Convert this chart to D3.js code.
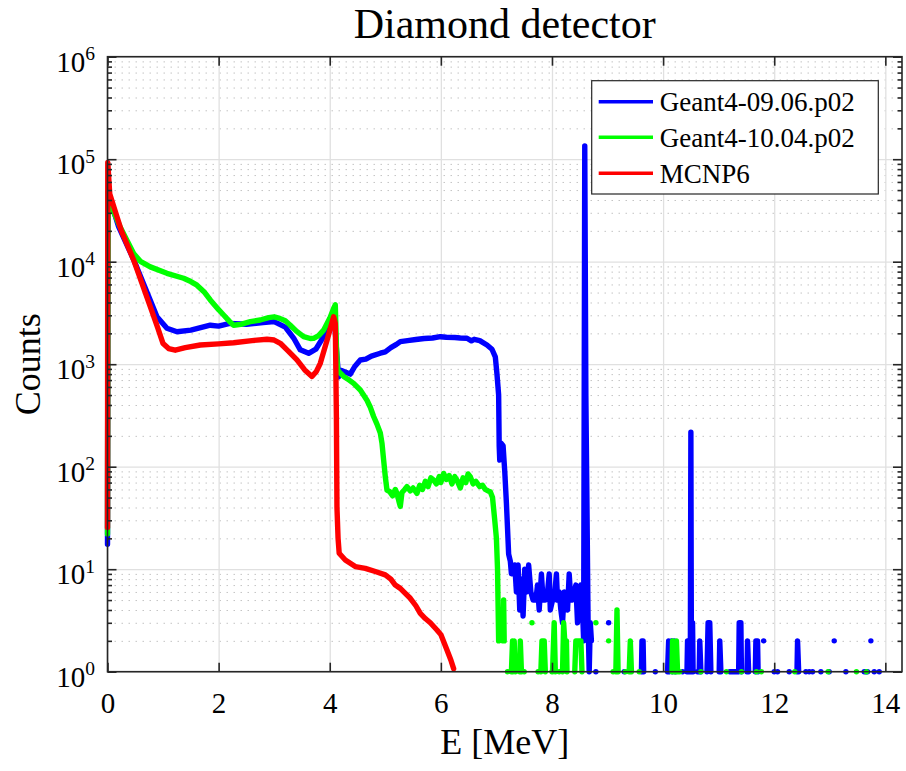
<!DOCTYPE html>
<html>
<head>
<meta charset="utf-8">
<script src="https://cdn.jsdelivr.net/npm/d3@7"></script>
<style>
  body { margin: 0; background: #fff; }
  text { font-family: "Liberation Serif", "Times New Roman", serif; fill: #000; }
</style>
</head>
<body>
<script>
var width = 906, height = 771,
    plotLeft = 107.5, plotRight = 902, plotTop = 56.7, plotBottom = 671.7;

var xTicks = [0, 2, 4, 6, 8, 10, 12, 14];
var yExponents = [0, 1, 2, 3, 4, 5, 6];
var seriesNames = ["Geant4-09.06.p02", "Geant4-10.04.p02", "MCNP6"];
var seriesColors = ["#0000ff", "#00ff00", "#ff0000"];

// [E (MeV), counts] ; 0 counts = empty bin (line breaks on log axis)
var geant4v906 = [
  [0, 17.5], [0.01, 48000], [0.05, 40000], [0.2, 22000], [0.47, 10500], [0.77, 4200], [0.89, 2900],
  [1.07, 2240], [1.25, 2075], [1.5, 2150], [1.85, 2400], [2.0, 2350], [2.2, 2500], [2.5, 2450],
  [2.8, 2550], [3.0, 2600], [3.2, 2300], [3.35, 1800], [3.47, 1380], [3.62, 1277], [3.75, 1400],
  [3.9, 1900], [4.05, 2900], [4.08, 3000], [4.13, 1200], [4.16, 750], [4.2, 870], [4.3, 830],
  [4.37, 800], [4.45, 950], [4.55, 1100], [4.65, 1120], [4.75, 1200], [4.91, 1280], [5.0, 1320],
  [5.1, 1450], [5.2, 1560], [5.27, 1660], [5.4, 1700], [5.55, 1740], [5.7, 1780], [5.85, 1800],
  [5.99, 1855], [6.1, 1830], [6.25, 1820], [6.35, 1800], [6.47, 1790], [6.55, 1690], [6.6, 1750],
  [6.7, 1700], [6.83, 1540], [6.92, 1400], [6.98, 1180], [7.01, 800], [7.04, 500], [7.05, 160],
  [7.06, 116], [7.08, 170], [7.12, 160], [7.15, 90], [7.18, 44], [7.2, 25], [7.22, 14], [7.25, 12],
  [7.27, 9], [7.30, 9], [7.33, 11], [7.36, 6], [7.39, 11], [7.42, 4], [7.45, 8], [7.48, 3.5],
  [7.51, 10], [7.54, 6], [7.58, 11], [7.62, 6], [7.66, 5], [7.71, 5], [7.74, 7], [7.77, 4],
  [7.81, 9], [7.84, 5], [7.88, 5], [7.92, 6], [7.95, 9], [7.97, 4], [8.01, 5], [8.04, 5], [8.08, 9],
  [8.10, 5], [8.13, 6], [8.16, 4], [8.19, 3], [8.22, 6], [8.25, 5], [8.28, 4], [8.31, 9], [8.34, 5],
  [8.37, 5], [8.40, 6], [8.43, 7], [8.46, 3], [8.49, 5], [8.52, 7], [8.55, 4], [8.57, 2],
  [8.59, 135000], [8.61, 490], [8.63, 40], [8.65, 3], [8.67, 1], [8.69, 3], [8.71, 2], [8.72, 0],
  [8.79, 1], [8.80, 0], [9.02, 3], [9.03, 0], [9.3, 1], [9.31, 0], [9.61, 1], [9.62, 2], [9.64, 2],
  [9.65, 1], [9.66, 0], [9.86, 1], [9.87, 0], [10.08, 1], [10.10, 2], [10.12, 1], [10.15, 2],
  [10.17, 1], [10.20, 2], [10.22, 1], [10.24, 0], [10.35, 1], [10.36, 0], [10.43, 1], [10.44, 2],
  [10.46, 1], [10.49, 1], [10.50, 217], [10.51, 1], [10.53, 3], [10.54, 1], [10.55, 0], [10.62, 1],
  [10.65, 1], [10.66, 2], [10.68, 1], [10.69, 0], [10.79, 1], [10.81, 3], [10.84, 3], [10.86, 1],
  [10.87, 0], [11.01, 1], [11.02, 2], [11.04, 1], [11.05, 0], [11.2, 1], [11.3, 1], [11.36, 1],
  [11.37, 3], [11.40, 3], [11.41, 1], [11.42, 0], [11.51, 1], [11.52, 2], [11.54, 1], [11.55, 0],
  [11.66, 1], [11.67, 2], [11.70, 2], [11.71, 1], [11.72, 0], [11.81, 2], [11.82, 0], [12.0, 1],
  [12.01, 0], [12.06, 1], [12.07, 0], [12.27, 1], [12.28, 0], [12.41, 1], [12.42, 2], [12.44, 1],
  [12.45, 0], [12.57, 1], [12.58, 0], [12.63, 1], [12.64, 0], [12.69, 1], [12.70, 0], [12.84, 1],
  [12.85, 0], [12.99, 1], [13.0, 0], [13.08, 2], [13.09, 0], [13.29, 1], [13.30, 0], [13.62, 1],
  [13.68, 1], [13.69, 0], [13.74, 2], [13.75, 0], [13.8, 1], [13.81, 0], [13.89, 1], [13.9, 0]
];

var geant4v1004 = [
  [0, 22], [0.01, 48000], [0.05, 40000], [0.075, 34000], [0.225, 22000], [0.47, 12000], [0.6, 10000],
  [0.77, 8900], [1.07, 7700], [1.37, 6900], [1.5, 6400], [1.61, 5900], [1.75, 5000], [1.85, 4240],
  [2.0, 3400], [2.09, 3020], [2.2, 2600], [2.27, 2400], [2.4, 2450], [2.57, 2600], [2.75, 2700],
  [2.9, 2850], [3.0, 2900], [3.1, 2800], [3.2, 2650], [3.29, 2400], [3.4, 2100], [3.53, 1860],
  [3.65, 1780], [3.71, 1790], [3.8, 1900], [3.89, 2150], [4.0, 2800], [4.07, 3500], [4.1, 3800],
  [4.12, 1500], [4.14, 900], [4.16, 850], [4.25, 760], [4.35, 700], [4.43, 650], [4.55, 560],
  [4.67, 445], [4.73, 380], [4.79, 309], [4.85, 260], [4.91, 213], [4.94, 170], [4.97, 116],
  [5.0, 80], [5.03, 59], [5.08, 57], [5.13, 52], [5.18, 60], [5.21, 55], [5.25, 45], [5.27, 41],
  [5.3, 56], [5.35, 60], [5.39, 64], [5.45, 58], [5.5, 62], [5.57, 55], [5.62, 66], [5.67, 60],
  [5.72, 72], [5.77, 64], [5.82, 78], [5.87, 74], [5.92, 68], [5.97, 80], [6.0, 70], [6.05, 86],
  [6.1, 75], [6.15, 82], [6.2, 68], [6.25, 80], [6.29, 74], [6.35, 62], [6.4, 78], [6.45, 70],
  [6.49, 85], [6.53, 80], [6.58, 68], [6.63, 72], [6.7, 64], [6.75, 66], [6.8, 60], [6.85, 58],
  [6.89, 57], [6.93, 50], [6.97, 30], [7.0, 20], [7.02, 10], [7.04, 2], [7.05, 0],
  [7.12, 2], [7.13, 5], [7.14, 2], [7.15, 0], [7.2, 1], [7.21, 0], [7.27, 1], [7.29, 2], [7.30, 1],
  [7.32, 2], [7.34, 1], [7.35, 0], [7.42, 1], [7.43, 2], [7.45, 1], [7.46, 0], [7.5, 1], [7.51, 0],
  [7.64, 3], [7.65, 0], [7.75, 1], [7.76, 0], [7.80, 1], [7.82, 2], [7.86, 2], [7.88, 1], [7.89, 0],
  [8.0, 1], [8.01, 1], [8.04, 3], [8.06, 1], [8.07, 0], [8.13, 1], [8.14, 0], [8.19, 1], [8.21, 3],
  [8.23, 2], [8.26, 2], [8.27, 1], [8.28, 0], [8.41, 1], [8.43, 2], [8.46, 2], [8.49, 2], [8.52, 2],
  [8.54, 1], [8.55, 0], [8.79, 3], [8.80, 0], [9.02, 2], [9.03, 0], [9.1, 1], [9.11, 0], [9.15, 1],
  [9.17, 4], [9.19, 1], [9.20, 0], [9.32, 1], [9.33, 0], [9.39, 1], [9.41, 2], [9.43, 1], [9.44, 0],
  [9.57, 1], [9.58, 0], [10.16, 1], [10.17, 2], [10.19, 1], [10.2, 0], [10.23, 1], [10.24, 2],
  [10.26, 1], [10.30, 1], [10.31, 0], [10.68, 1], [10.69, 0], [11.14, 1], [11.15, 0], [11.41, 1],
  [11.42, 0], [11.68, 1], [11.69, 0], [11.77, 1], [11.78, 0], [12.37, 1], [12.38, 0], [12.97, 1],
  [12.98, 0], [13.48, 1], [13.49, 0], [13.66, 1], [13.67, 0]
];

var mcnp6 = [
  [0, 25.5], [0.005, 93000], [0.04, 46000], [0.25, 20000], [0.47, 10400], [0.77, 3650], [0.9, 2300],
  [1.0, 1590], [1.1, 1420], [1.22, 1370], [1.4, 1450], [1.67, 1540], [2.0, 1580], [2.27, 1620],
  [2.6, 1700], [2.87, 1750], [3.0, 1720], [3.11, 1600], [3.25, 1350], [3.41, 1100], [3.55, 880],
  [3.68, 760], [3.76, 850], [3.83, 1020], [3.95, 1700], [4.07, 2900], [4.1, 2500], [4.12, 300],
  [4.13, 40], [4.15, 20], [4.17, 14.3], [4.28, 12.3], [4.46, 10.6], [4.64, 10.2], [4.82, 9.5],
  [5.0, 8.8], [5.1, 8], [5.18, 7.0], [5.27, 6.5], [5.36, 5.8], [5.45, 5.2], [5.55, 4.4], [5.63, 3.7],
  [5.72, 3.3], [5.81, 3.0], [5.93, 2.55], [6.0, 2.3], [6.11, 1.63], [6.18, 1.3], [6.23, 1.07]
];

var allSeries = [geant4v906, geant4v1004, mcnp6];

var svg = d3.select("body").append("svg")
    .attr("width", width)
    .attr("height", height)
    .style("background", "#fff");

var x = d3.scaleLinear().domain([0, 14.3]).range([plotLeft, plotRight]);
var y = d3.scaleLog().domain([1, 1e6]).range([plotBottom, plotTop]);

var majorY = yExponents.map(function(e) { return Math.pow(10, e); });
var minorY = [];
yExponents.slice(0, -1).forEach(function(e) {
  for (var k = 2; k <= 9; k++) minorY.push(k * Math.pow(10, e));
});

var plotW = plotRight - plotLeft, plotH = plotBottom - plotTop;

// grid
svg.append("g")
    .attr("transform", "translate(" + plotLeft + ",0)")
    .call(d3.axisLeft(y).tickValues(minorY).tickSize(-plotW).tickFormat(""))
    .call(function(g) {
      g.select(".domain").remove();
      g.selectAll("line").attr("stroke", "#c4c4c4").attr("stroke-dasharray", "1.5,5.5");
    });
svg.append("g")
    .attr("transform", "translate(" + plotLeft + ",0)")
    .call(d3.axisLeft(y).tickValues(majorY).tickSize(-plotW).tickFormat(""))
    .call(function(g) {
      g.select(".domain").remove();
      g.selectAll("line").attr("stroke", "#e0e0e0").attr("stroke-width", 1.3);
    });
svg.append("g")
    .attr("transform", "translate(0," + plotBottom + ")")
    .call(d3.axisBottom(x).tickValues(xTicks).tickSize(-plotH).tickFormat(""))
    .call(function(g) {
      g.select(".domain").remove();
      g.selectAll("line").attr("stroke", "#e0e0e0").attr("stroke-width", 1.3);
    });

// data lines
var line = d3.line()
    .defined(function(d) { return d[1] > 0; })
    .x(function(d) { return x(d[0]); })
    .y(function(d) { return y(d[1]); });

svg.append("g").selectAll("path")
    .data(allSeries)
    .enter()
    .append("path")
    .attr("d", line)
    .attr("fill", "none")
    .attr("stroke", function(d, i) { return seriesColors[i]; })
    .attr("stroke-width", 5.4)
    .attr("stroke-linejoin", "round")
    .attr("stroke-linecap", "round");

// axes ticks (inward)
var axisColor = "#262626";
function styleAxis(g) {
  g.select(".domain").remove();
  g.selectAll("line").attr("stroke", axisColor).attr("stroke-width", 1.6);
}
svg.append("g").attr("transform", "translate(0," + plotBottom + ")")
    .call(d3.axisBottom(x).tickValues(xTicks).tickSize(-9).tickPadding(18).tickFormat(d3.format("d")))
    .call(styleAxis)
    .call(function(g) {
      g.selectAll("text").attr("font-size", 29).attr("fill", "#262626")
        .attr("font-family", "Liberation Serif").attr("dy", "0.82em");
    });
svg.append("g").attr("transform", "translate(0," + plotTop + ")")
    .call(d3.axisTop(x).tickValues(xTicks).tickSize(-9).tickFormat(""))
    .call(styleAxis);
[[plotLeft, d3.axisLeft], [plotRight, d3.axisRight]].forEach(function(a) {
  svg.append("g").attr("transform", "translate(" + a[0] + ",0)")
      .call(a[1](y).tickValues(majorY).tickSize(-9).tickFormat(""))
      .call(styleAxis);
  svg.append("g").attr("transform", "translate(" + a[0] + ",0)")
      .call(a[1](y).tickValues(minorY).tickSize(-4.5).tickFormat(""))
      .call(styleAxis);
});

// y tick labels 10^n
var ylab = svg.append("g").selectAll("text")
    .data(yExponents)
    .enter()
    .append("text")
    .attr("x", 95)
    .attr("y", function(e) { return y(Math.pow(10, e)) + 15; })
    .attr("text-anchor", "end")
    .attr("fill", "#262626");
ylab.append("tspan").attr("font-size", 29).text("10");
ylab.append("tspan").attr("font-size", 19.5).attr("dy", -11.5).text(function(e) { return e; });

// frame
svg.append("rect")
    .attr("x", plotLeft).attr("y", plotTop)
    .attr("width", plotW).attr("height", plotH)
    .attr("fill", "none").attr("stroke", axisColor).attr("stroke-width", 1.6);

// title and labels
svg.append("text")
    .attr("x", (plotLeft + plotRight) / 2).attr("y", 38)
    .attr("text-anchor", "middle").attr("font-size", 42)
    .text("Diamond detector");
svg.append("text")
    .attr("x", (plotLeft + plotRight) / 2).attr("y", 754)
    .attr("text-anchor", "middle").attr("font-size", 36).attr("fill", "#262626")
    .text("E [MeV]");
svg.append("text")
    .attr("transform", "translate(40," + (plotTop + plotBottom) / 2 + ") rotate(-90)")
    .attr("text-anchor", "middle").attr("font-size", 36).attr("fill", "#262626")
    .text("Counts");

// legend
var legend = svg.append("g").attr("transform", "translate(591.7,80.7)");
legend.append("rect")
    .attr("width", 286.6).attr("height", 113.3)
    .attr("fill", "#fff").attr("stroke", axisColor).attr("stroke-width", 1.2);
var items = legend.selectAll("g.item")
    .data(seriesNames)
    .enter()
    .append("g")
    .attr("class", "item")
    .attr("transform", function(d, i) { return "translate(0," + [21, 56.6, 92.6][i] + ")"; });
items.append("line")
    .attr("x1", 7).attr("x2", 61.3)
    .attr("stroke", function(d, i) { return seriesColors[i]; })
    .attr("stroke-width", 3.6);
items.append("text")
    .attr("x", 68).attr("y", 9.5)
    .attr("font-size", 27)
    .text(function(d) { return d; });
</script>
</body>
</html>
